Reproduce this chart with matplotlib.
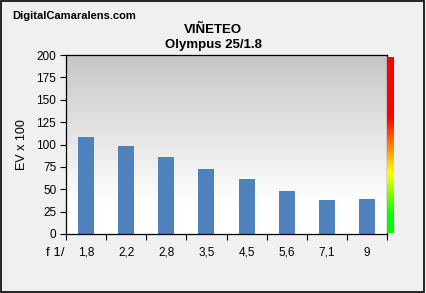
import numpy as np
import matplotlib
matplotlib.use("Agg")
import matplotlib.pyplot as plt
from matplotlib.colors import LinearSegmentedColormap

categories = ["1,8", "2,2", "2,8", "3,5", "4,5", "5,6", "7,1", "9"]
values = [108, 98, 86, 73, 61, 48, 38, 39]
yticks = [0, 25, 50, 75, 100, 125, 150, 175, 200]

plt.rcParams['font.family'] = ['Liberation Sans', 'DejaVu Sans']

fig = plt.figure(figsize=(4.26, 2.93), dpi=100)
fig.patch.set_facecolor('#f0f0f0')

# outer border
fig.add_artist(plt.Rectangle((0.002, 0.003), 0.994, 0.993, transform=fig.transFigure,
                             fill=False, edgecolor='black', linewidth=1.2))

ax = fig.add_axes([66/426, 59/293, 321/426, 179/293])
n = len(categories)
x = np.arange(n)
# gradient background
grad = np.linspace(0, 1, 256).reshape(-1, 1)
bg = LinearSegmentedColormap.from_list('bg', [(0, '#ffffff'), (0.18, '#ffffff'), (1, '#c6c6c6')])
ax.imshow(grad, extent=(-0.5, n - 0.5, 0, 200), origin='lower', aspect='auto', cmap=bg, zorder=0)
ax.bar(x, values, width=0.4, color='#4f81bd', zorder=2)
ax.set_xlim(-0.5, n - 0.5)
ax.set_ylim(0, 200)
ax.set_yticks(yticks)
ax.set_yticklabels([str(t) for t in yticks], fontsize=8.5)
ax.set_xticks(x)
ax.set_xticklabels(categories, fontsize=8.5)
ax.set_xticks(np.arange(n + 1) - 0.5, minor=True)
ax.tick_params(axis='x', which='major', length=0, pad=9)
ax.tick_params(axis='x', which='minor', length=4, direction='out', width=0.8)
ax.tick_params(axis='y', length=4, direction='out', width=0.8, pad=3)
for s in ax.spines.values():
    s.set_linewidth(0.9)
ax.set_ylabel("EV x 100", fontsize=9)
ax.yaxis.set_label_coords(-0.118, 0.5)

fig.text(55/426, 1 - 253/293, "f 1/", fontsize=9.5, ha='center', va='center')
fig.text(12/426, 1 - 16/293, "DigitalCamaralens.com", fontsize=8, fontweight='bold', ha='left', va='center')
fig.text(213/426, 1 - 30/293, "VIÑETEO", fontsize=9.5, fontweight='bold', ha='center', va='center')
fig.text(213/426, 1 - 45/293, "Olympus 25/1.8", fontsize=9.5, fontweight='bold', ha='center', va='center')

# color scale bar
cax = fig.add_axes([387/426, 60/293, 7/426, 176/293])
cm = LinearSegmentedColormap.from_list('scale', [(0, '#00ff00'), (0.1, '#00ff00'), (0.34, '#ffff00'),
                                                  (0.5, '#ff8000'), (0.66, '#ff0000'), (1, '#ff0000')])
cax.imshow(grad, extent=(0, 1, 0, 1), origin='lower', aspect='auto', cmap=cm)
cax.set_axis_off()

fig.savefig("out.png", dpi=100, facecolor=fig.get_facecolor())
